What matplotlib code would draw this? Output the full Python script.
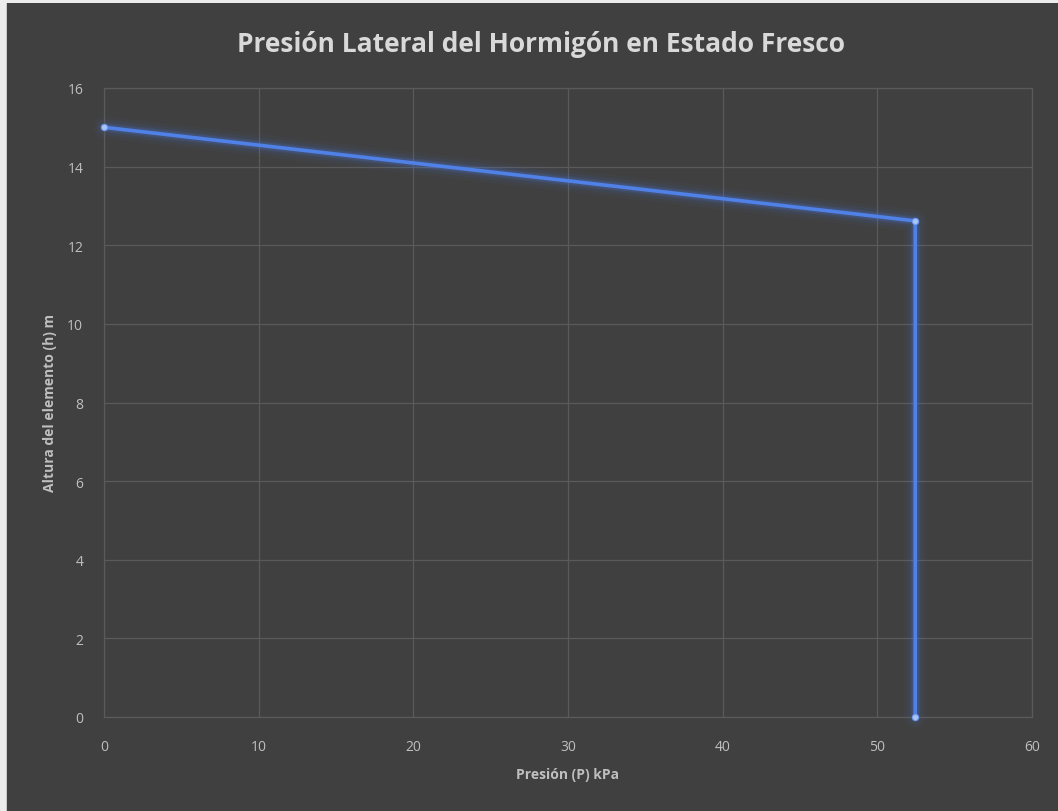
import matplotlib
matplotlib.use("Agg")
import matplotlib.pyplot as plt
from matplotlib.patches import Rectangle

# Data
presion = [0, 52.45, 52.45]
altura = [15, 12.62, 0]
x_ticks = [0, 10, 20, 30, 40, 50, 60]
y_ticks = [0, 2, 4, 6, 8, 10, 12, 14, 16]
title = "Presión Lateral del Hormigón en Estado Fresco"
xlabel = "Presión (P) kPa"
ylabel = "Altura del elemento (h) m"

W, H = 1058, 812
bg = "#404040"
fig = plt.figure(figsize=(W / 100, H / 100), dpi=100, facecolor=bg)

# light border strips (top and left)
fig.patches.append(Rectangle((0, 1 - 4 / H), 1, 4 / H, transform=fig.transFigure,
                             facecolor="#ececec", edgecolor="none", zorder=10))
fig.patches.append(Rectangle((0, 0), 7 / W, 1, transform=fig.transFigure,
                             facecolor="#ececec", edgecolor="none", zorder=10))
fig.patches.append(Rectangle((6 / W, 0), 1.2 / W, 1 - 4 / H, transform=fig.transFigure,
                             facecolor="#c8c8c8", edgecolor="none", zorder=11))

left, right, top, bottom = 104, 1032, 89, 718
ax = fig.add_axes([left / W, 1 - bottom / H, (right - left) / W, (bottom - top) / H])
ax.set_facecolor(bg)

ax.set_xlim(0, 60)
ax.set_ylim(0, 16)
ax.set_xticks(x_ticks)
ax.set_yticks(y_ticks)
ax.grid(True, color="#5a5a5a", linewidth=0.9)
ax.set_axisbelow(True)
for s in ax.spines.values():
    s.set_color("#5a5a5a")
    s.set_linewidth(0.9)
ax.tick_params(length=0, colors="#bfbfbf", labelsize=10)
ax.tick_params(axis="x", pad=16)
ax.tick_params(axis="y", pad=15)
for lab in ax.get_xticklabels() + ax.get_yticklabels():
    lab.set_fontfamily("Open Sans")

# glow
for lw, a in [(16, 0.04), (11, 0.07), (7, 0.11), (5, 0.16)]:
    ax.plot(presion, altura, color="#4a7cf0", linewidth=lw, alpha=a,
            solid_capstyle="round", solid_joinstyle="round", clip_on=False, zorder=2)
ax.plot(presion, altura, color="#4f81e6", linewidth=2.6, solid_joinstyle="miter",
        clip_on=False, zorder=3)
ax.plot(presion, altura, linestyle="none", marker="o", markersize=4.5,
        markerfacecolor="#a9c3f5", markeredgecolor="#6f98ee", markeredgewidth=0.8,
        clip_on=False, zorder=4)

ax.set_xlabel(xlabel, color="#bfbfbf", fontsize=10, fontweight="bold",
              fontfamily="Open Sans", labelpad=9)
ax.set_ylabel(ylabel, color="#bfbfbf", fontsize=10, fontweight="bold",
              fontfamily="Open Sans", labelpad=7)

fig.text(541 / W, 1 - 45 / H, title, ha="center", va="center", color="#d9d9d9",
         fontsize=19, fontweight="bold", fontfamily="Open Sans")

fig.savefig("out.png", dpi=100, facecolor=bg)
